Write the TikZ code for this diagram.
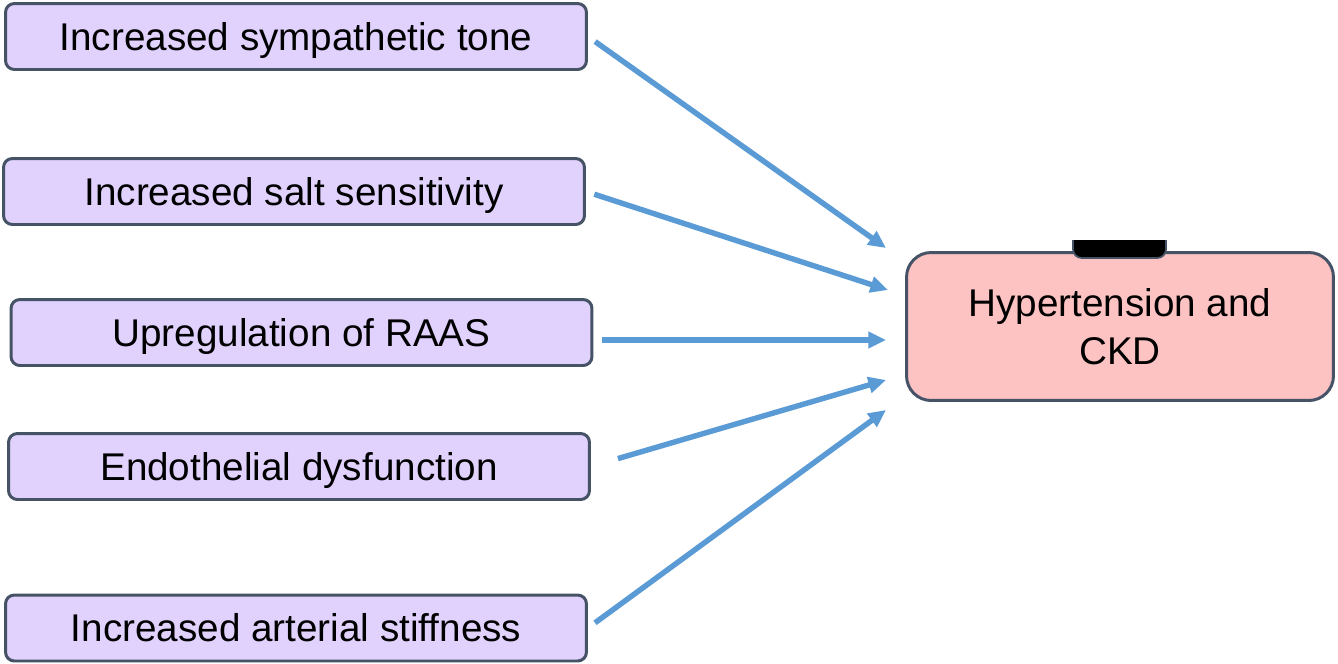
\documentclass[tikz,border=0pt]{standalone}
\usepackage{fontspec}
\setmainfont{Liberation Sans}
\usetikzlibrary{arrows.meta,calc}
\definecolor{causefill}{HTML}{E1D1FD}
\definecolor{effectfill}{HTML}{FDC3C3}
\definecolor{boxline}{HTML}{465366}
\definecolor{arrowblue}{HTML}{5B9BD5}
\begin{document}
\begin{tikzpicture}[x = 0.02cm, y = -0.02cm, >={Triangle[length=10pt,width=9pt]}]
\tikzset{cbox/.style={draw=boxline, fill=causefill, line width=1.7pt, rounded corners=5pt, rectangle, inner sep=0, minimum width = 11.62 cm, minimum height = 1.32 cm, text height=15.75pt, text depth=0pt, font=\fontsize{22}{26}\selectfont},
ebox/.style={draw=boxline, fill=effectfill, line width=1.7pt, rounded corners=14pt, rectangle, inner sep=0, minimum width = 8.54 cm, minimum height = 2.96 cm, align=center, font=\fontsize{22}{27.5}\selectfont},
carrow/.style={arrowblue, line width=3.1pt, ->, shorten <=5pt}}
\useasboundingbox (0,0) rectangle (1338,663);
%% define coordinate grid
\def \xcause {296}
\def \xtip {886}

%% causes
\node [cbox] (sympa) at (\xcause,36.5) {Increased sympathetic tone};
\node [cbox] (salt) at (294,191.5) {Increased salt sensitivity};
\node [cbox] (raas) at (301.5,332.5) {Upregulation of RAAS};
\node [cbox] (endo) at (299,466.5) {Endothelial dysfunction};
\node [cbox] (stiff) at (\xcause,628) {Increased arterial stiffness};

%% effect
\node [ebox] (hyp) at (1120,326.5) {Hypertension and\\CKD};
\begin{scope}
\clip (1060,240) rectangle (1180,270);
\draw [fill=black, draw=boxline, line width=1pt, rounded corners=5pt] (1073,225) rectangle (1166,258);
\end{scope}

% arrow tips
\coordinate (t1) at (\xtip,248);
\coordinate (t2) at (\xtip+2,290);
\coordinate (t3) at (\xtip,340);
\coordinate (t4) at (\xtip,380);
\coordinate (t5) at (\xtip,410);

% paths
\draw [carrow] (sympa.east) -- (t1);
\draw [carrow] (salt.east) -- (t2);
\draw [carrow] (raas.east |- t3) -- (t3);
\draw [carrow, shorten <=16pt] (endo.east) -- (t4);
\draw [carrow] (stiff.east) -- (t5);
\end{tikzpicture}
\end{document}
